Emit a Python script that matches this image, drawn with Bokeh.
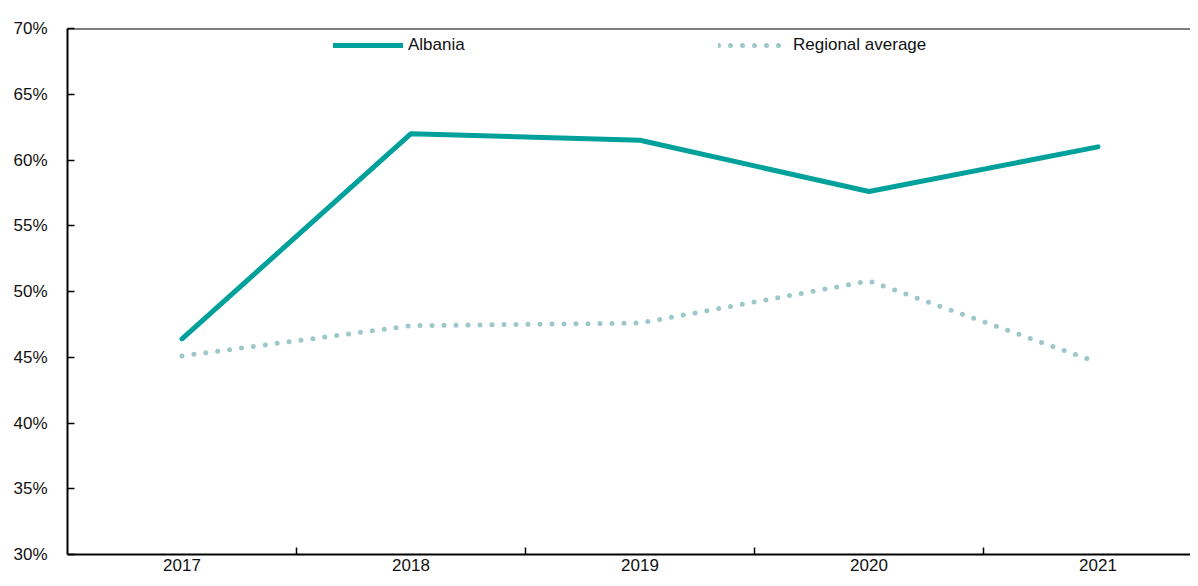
from bokeh.plotting import figure
from bokeh.models import Range1d, FixedTicker, Legend, LegendItem, Span
from bokeh.embed import file_html
from bokeh.resources import INLINE

years = ["2017", "2018", "2019", "2020", "2021"]
albania = [46.4, 62.0, 61.5, 57.6, 61.0]
regional = [45.1, 47.4, 47.6, 50.8, 44.6]
y_ticks = [30, 35, 40, 45, 50, 55, 60, 65, 70]

FONT = "Liberation Sans, Arial, sans-serif"
FS = "17px"

xs = list(range(len(years)))

p = figure(width=1190, height=578, output_backend="svg", toolbar_location=None,
           x_range=Range1d(-0.5, 4.404), y_range=Range1d(30, 70),
           min_border_left=67, min_border_top=28, min_border_bottom=24, min_border_right=0)
p.outline_line_color = None
p.grid.grid_line_color = None
p.background_fill_color = "white"

r1 = p.line(xs, albania, line_color="#00A19A", line_width=5, line_cap="round", line_join="round")
r2 = p.line(xs, regional, line_color="#9DC8C8", line_width=5, line_cap="round", line_dash="0 12")

# axes
p.yaxis.ticker = FixedTicker(ticks=y_ticks)
p.yaxis.major_label_overrides = {v: f"{v}%" for v in y_ticks}
p.yaxis.major_tick_in = 7
p.yaxis.major_tick_out = 0
p.yaxis.minor_tick_line_color = None
p.yaxis.axis_line_width = 2
p.yaxis.major_tick_line_width = 1.5
p.yaxis.major_label_standoff = 20

p.xaxis.ticker = FixedTicker(ticks=xs, minor_ticks=[0.5, 1.5, 2.5, 3.5])
p.xaxis.major_label_overrides = {i: y for i, y in enumerate(years)}
p.xaxis.major_tick_in = 0
p.xaxis.major_tick_out = 0
p.xaxis.minor_tick_in = 7
p.xaxis.minor_tick_out = 0
p.xaxis.minor_tick_line_color = "black"
p.xaxis.minor_tick_line_width = 1.5
p.xaxis.axis_line_width = 2
p.xaxis.major_label_standoff = 4

for ax in (p.xaxis, p.yaxis):
    ax.axis_line_color = "black"
    ax.major_tick_line_color = "black"
    ax.major_label_text_font = FONT
    ax.major_label_text_font_size = FS
    ax.major_label_text_color = "#111111"

p.add_layout(Span(location=70, dimension="width", line_color="black", line_width=2))

for item, x in ((LegendItem(label="Albania", renderers=[r1]), 266),
                (LegendItem(label="Regional average", renderers=[r2]), 651)):
    lg = Legend(items=[item], location=(x, 499), orientation="horizontal",
                glyph_width=70, glyph_height=16, label_standoff=5, padding=0, margin=0,
                border_line_color=None, background_fill_alpha=0,
                label_text_font=FONT, label_text_font_size=FS, label_text_color="#111111")
    p.add_layout(lg)

open("out.html", "w").write(file_html(p, INLINE))
